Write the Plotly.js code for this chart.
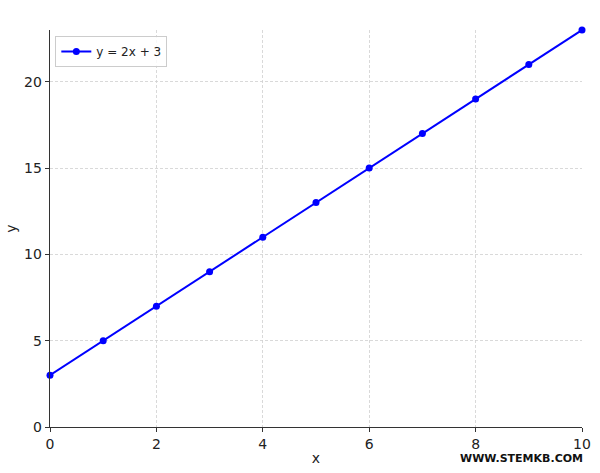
<!DOCTYPE html>
<html>
<head>
<meta charset="utf-8">
<script src="https://cdn.plot.ly/plotly-3.0.1.min.js"></script>
<style>
  body { margin: 0; background: #fff; }
  #chart { width: 600px; height: 473px; }
</style>
</head>
<body>
<div id="chart"></div>
<script>
// y = 2x + 3, sampled at the integers
var xValues = [0, 1, 2, 3, 4, 5, 6, 7, 8, 9, 10];
var yValues = [3, 5, 7, 9, 11, 13, 15, 17, 19, 21, 23];
var seriesName = 'y = 2x + 3';
var xTicks = [0, 2, 4, 6, 8, 10];
var yTicks = [0, 5, 10, 15, 20];

var trace = {
  x: xValues,
  y: yValues,
  name: seriesName,
  type: 'scatter',
  mode: 'lines+markers',
  line: { color: '#0000ff', width: 2 },
  marker: { color: '#0000ff', size: 7 },
  cliponaxis: false,
  showlegend: true
};

var axisStyle = {
  showline: true,
  linecolor: '#333',
  linewidth: 1.3,
  ticks: 'outside',
  ticklen: 4,
  tickcolor: '#333',
  showgrid: true,
  gridcolor: '#d0d0d0',
  griddash: '3px,2px',
  gridwidth: 0.8,
  zeroline: false,
  tickfont: { family: 'DejaVu Sans', size: 14, color: '#222' }
};

var layout = {
  width: 600,
  height: 473,
  margin: { l: 50, r: 18, t: 30, b: 46 },
  paper_bgcolor: '#fff',
  plot_bgcolor: '#fff',
  font: { family: 'DejaVu Sans', color: '#222' },
  xaxis: Object.assign({}, axisStyle, {
    range: [0, 10],
    tickvals: xTicks,
    title: { text: 'x', font: { size: 14 }, standoff: 2 }
  }),
  yaxis: Object.assign({}, axisStyle, {
    range: [0, 23],
    tickvals: yTicks,
    title: { text: 'y', font: { size: 14 }, standoff: 4 }
  }),
  legend: {
    x: 0.01, y: 0.985,
    xanchor: 'left', yanchor: 'top',
    bgcolor: 'rgba(255,255,255,0.8)',
    bordercolor: '#cccccc',
    borderwidth: 1,
    font: { size: 12, family: 'DejaVu Sans', color: '#222' }
  },
  showlegend: true,
  annotations: [{
    text: '<b>WWW.STEMKB.COM</b>',
    xref: 'paper', yref: 'paper',
    x: 1.005, y: -0.058,
    xanchor: 'right', yanchor: 'top',
    showarrow: false,
    font: { family: 'DejaVu Sans', size: 11, color: '#111' }
  }]
};

Plotly.newPlot('chart', [trace], layout, { displayModeBar: false, staticPlot: true });
</script>
</body>
</html>
